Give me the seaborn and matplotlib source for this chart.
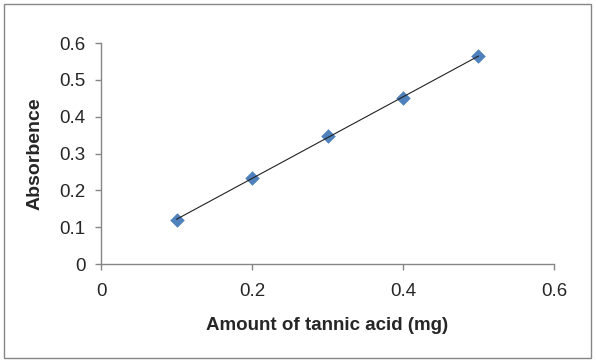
import numpy as np
import matplotlib
matplotlib.use("Agg")
import matplotlib.pyplot as plt
import seaborn as sns
from matplotlib.patches import Rectangle

# Data
tannic_mg = [0.1, 0.2, 0.3, 0.4, 0.5]
absorbance = [0.119, 0.234, 0.347, 0.450, 0.565]
x_ticks = [0, 0.2, 0.4, 0.6]
y_ticks = [0, 0.1, 0.2, 0.3, 0.4, 0.5, 0.6]

sns.set_style("white")
plt.rcParams["font.family"] = ["Liberation Sans", "DejaVu Sans"]

fig = plt.figure(figsize=(5.96, 3.63), dpi=100)
ax = fig.add_axes([0.1695, 0.2727, 0.76, 0.6088])

# Scatter + linear trendline
sns.regplot(x=tannic_mg, y=absorbance, ax=ax, ci=None, marker="D",
            scatter_kws={"s": 55, "color": "#4F81BD", "linewidths": 0, "alpha": 1},
            line_kws={"color": "#222222", "linewidth": 0.8})

ax.set_xlim(0, 0.6)
ax.set_ylim(0, 0.6)
ax.set_xticks(x_ticks)
ax.set_yticks(y_ticks)
ax.set_xticklabels([f"{v:g}" for v in x_ticks])
ax.set_yticklabels([f"{v:g}" for v in y_ticks])
ax.tick_params(axis="both", direction="out", length=4, width=1, color="#868686",
               labelsize=13.5, pad=7, bottom=True, left=True)
ax.tick_params(axis="x", pad=10)

for side in ["top", "right"]:
    ax.spines[side].set_visible(False)
for side in ["left", "bottom"]:
    ax.spines[side].set_color("#868686")
    ax.spines[side].set_linewidth(1)

ax.set_xlabel("Amount of tannic acid (mg)", fontsize=13.5, fontweight="bold", labelpad=12)
ax.set_ylabel("Absorbence", fontsize=14, fontweight="bold", labelpad=11.5)

# Outer chart border like the Excel chart area
fig.patches.append(Rectangle((0.0075, 0.013), 0.984, 0.975, transform=fig.transFigure,
                             fill=False, edgecolor="#868686", linewidth=1))

fig.savefig("out.png", dpi=100)
